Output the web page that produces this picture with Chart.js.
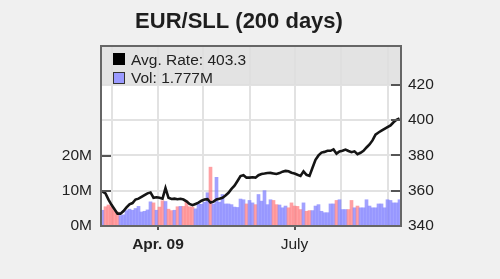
<!DOCTYPE html>
<html>
<head>
<meta charset="utf-8">
<script src="https://cdn.jsdelivr.net/npm/chart.js@4/dist/chart.umd.min.js"></script>
<style>
  html, body { margin: 0; padding: 0; background: #f0f0f0; }
  #wrap { width: 500px; height: 279px; }
</style>
</head>
<body>
<div id="wrap"><canvas id="c" width="500" height="279"></canvas></div>
<script>
// ---- data (one point every 2 days, starting 2009-02-22) ----
const startDate = '2009-02-22';
const stepDays = 2;
const rate = [
  359.5, 358.5, 355, 352, 349.5, 347, 347, 348.5, 350.5, 352.3,
  353, 355, 355.5, 356.5, 357.5, 358.5, 359, 356, 356.3, 356,
  355.5, 361.5, 356, 355.3, 355.5, 355.2, 355.4, 355, 354, 352.5,
  351.8, 352.5, 353.2, 354.3, 355, 355.2, 353.3, 353.8, 355, 355.5,
  356, 357.3, 358.8, 361, 362.8, 365.5, 368.3, 368.8, 367.4, 367.4,
  367.6, 367.4, 368.8, 369.5, 369.7, 370, 370.1, 369.8, 369.5, 370,
  370.8, 371.2, 371, 370.2, 369.7, 369, 368.4, 371, 369, 368.4,
  373, 377.5, 380, 381.6, 382, 382.6, 382.6, 383.4, 381, 382.3,
  382.6, 383.3, 382.5, 381.8, 382.3, 380.7, 381.5, 382.6, 384.5, 386.2,
  388.5, 391.8, 393, 394, 395, 396, 397, 398.8, 400.2, 401
];
const volM = [
  4.5, 5.5, 6.0, 5.5, 4.4, 4.0, 3.0, 3.2, 4.4, 4.8,
  4.5, 5.0, 5.6, 4.0, 4.2, 4.6, 6.9, 6.6, 4.5, 5.4,
  7.2, 7.0, 4.8, 4.4, 4.5, 5.5, 5.6, 5.6, 7.2, 5.5,
  5.4, 4.9, 6.3, 6.2, 6.8, 9.5, 16.8, 6.3, 13.9, 6.8,
  9.0, 6.3, 6.3, 6.1, 5.4, 5.3, 7.7, 7.5, 6.3, 7.3,
  6.6, 6.1, 9.0, 7.1, 10.1, 6.1, 7.5, 7.3, 6.1, 6.0,
  5.2, 5.7, 5.2, 6.6, 5.7, 5.6, 4.7, 6.6, 4.2, 4.4,
  4.4, 5.7, 6.1, 4.2, 3.8, 3.8, 6.3, 6.3, 7.3, 7.5,
  4.7, 4.7, 4.7, 7.3, 5.2, 5.7, 5.2, 5.2, 7.5, 5.7,
  5.2, 5.2, 6.3, 6.3, 5.2, 7.5, 7.3, 6.6, 6.6, 7.5
];
const monthStarts = ['2009-03-01','2009-04-01','2009-05-01','2009-06-01','2009-07-01','2009-08-01','2009-09-01'];
const monthLabels = { '2009-04-01': 'Apr. 09', '2009-07-01': 'July' };
const rateTicks = [340, 360, 380, 400, 420];
const volTicksM = [0, 10, 20];
const titleText = 'EUR/SLL (200 days)';
const legendRate = 'Avg. Rate: 403.3';
const legendVol = 'Vol: 1.777M';

// ---- helpers ----
const DAY = 86400000;
const t0 = Date.parse(startDate + 'T00:00:00Z');
const dayOf = s => (Date.parse(s + 'T00:00:00Z') - t0) / DAY;
const xs = rate.map((_, i) => i * stepDays + stepDays / 2);
const tickDays = monthStarts.map(dayOf);
const labelByDay = {};
Object.keys(monthLabels).forEach(k => { labelByDay[dayOf(k)] = monthLabels[k]; });

const blue = 'rgba(125,125,255,0.72)';
const red = 'rgba(255,115,120,0.68)';
const barColors = rate.map((v, i) => (i > 0 && v < rate[i - 1]) ? red : blue);

Chart.defaults.font.family = "'Liberation Sans', Arial, sans-serif";
Chart.defaults.color = '#222';

const bgPlugin = {
  id: 'bg',
  beforeDraw(chart) {
    const { ctx, chartArea: a } = chart;
    ctx.save();
    ctx.fillStyle = '#ffffff';
    ctx.fillRect(a.left, a.top, a.right - a.left, a.bottom - a.top);
    ctx.restore();
  }
};

const overlayPlugin = {
  id: 'overlay',
  afterDatasetsDraw(chart) {
    const { ctx, chartArea: a, scales } = chart;
    ctx.save();
    // legend band
    ctx.fillStyle = 'rgba(222,222,222,0.85)';
    ctx.fillRect(a.left, a.top, a.right - a.left, 39);
    ctx.fillStyle = '#000';
    ctx.fillRect(a.left + 12, a.top + 7, 12, 12);
    ctx.fillStyle = '#9a9aff';
    ctx.fillRect(a.left + 12, a.top + 26, 12, 12);
    ctx.strokeStyle = '#333';
    ctx.lineWidth = 1;
    ctx.strokeRect(a.left + 12.5, a.top + 26.5, 11, 11);
    ctx.fillStyle = '#222';
    ctx.font = "15.5px 'Liberation Sans', Arial, sans-serif";
    ctx.textBaseline = 'alphabetic';
    ctx.fillText(legendRate, a.left + 30, a.top + 19);
    ctx.fillText(legendVol, a.left + 30, a.top + 37);
    // inner tick marks
    ctx.strokeStyle = '#555';
    ctx.lineWidth = 2;
    const yr = scales.yRate, yv = scales.yVol;
    rateTicks.forEach(v => {
      const y = Math.round(yr.getPixelForValue(v));
      ctx.beginPath(); ctx.moveTo(a.right - 10, y); ctx.lineTo(a.right, y); ctx.stroke();
    });
    volTicksM.forEach(v => {
      const y = Math.round(yv.getPixelForValue(v));
      ctx.beginPath(); ctx.moveTo(a.left, y); ctx.lineTo(a.left + 10, y); ctx.stroke();
    });
    // frame
    ctx.strokeStyle = '#666';
    ctx.lineWidth = 2;
    ctx.strokeRect(a.left, a.top, a.right - a.left, a.bottom - a.top);
    ctx.restore();
  }
};

new Chart(document.getElementById('c'), {
  data: {
    datasets: [
      {
        type: 'line',
        label: legendRate,
        data: rate.map((v, i) => ({ x: xs[i], y: v })),
        yAxisID: 'yRate',
        borderColor: '#151515',
        borderWidth: 2.6,
        pointRadius: 0,
        tension: 0,
        order: 0
      },
      {
        type: 'bar',
        label: legendVol,
        data: volM.map((v, i) => ({ x: xs[i], y: v })),
        yAxisID: 'yVol',
        backgroundColor: barColors,
        borderWidth: 0,
        barPercentage: 1,
        categoryPercentage: 1,
        order: 1
      }
    ]
  },
  options: {
    responsive: false,
    animation: false,
    devicePixelRatio: 1,
    layout: { padding: { left: 0, right: 22, top: 0, bottom: 0 } },
    plugins: {
      legend: { display: false },
      tooltip: { enabled: false },
      title: {
        display: true,
        text: titleText,
        color: '#1e1e1e',
        font: { size: 22, weight: 'bold', lineHeight: 1.2 },
        padding: { top: 9, bottom: 10.6 }
      }
    },
    scales: {
      x: {
        type: 'linear',
        min: 0,
        max: 200,
        offset: false,
        afterBuildTicks(scale) { scale.ticks = tickDays.map(v => ({ value: v })); },
        afterFit(scale) { scale.height = 53; },
        ticks: {
          autoSkip: false,
          maxRotation: 0,
          padding: 5,
          color: '#222',
          font: c => ({ size: 15.5, weight: (c.tick && c.tick.label === 'Apr. 09') ? 'bold' : 'normal' }),
          callback: v => labelByDay[v] || ''
        },
        grid: {
          offset: false,
          color: '#e2e2e2',
          lineWidth: 2,
          tickLength: 4,
          tickWidth: 2,
          tickColor: c => (c.tick && labelByDay[c.tick.value]) ? '#555' : 'rgba(0,0,0,0)'
        },
        border: { display: false }
      },
      yVol: {
        type: 'linear',
        position: 'left',
        min: 0,
        max: 51.4,
        afterBuildTicks(scale) { scale.ticks = volTicksM.map(v => ({ value: v })); },
        afterFit(scale) { scale.width = 101; },
        ticks: {
          padding: 9,
          color: '#222',
          font: { size: 15.5 },
          callback: v => v + 'M'
        },
        grid: { drawOnChartArea: false, drawTicks: false },
        border: { display: false }
      },
      yRate: {
        type: 'linear',
        position: 'right',
        min: 340,
        max: 442,
        afterBuildTicks(scale) { scale.ticks = rateTicks.map(v => ({ value: v })); },
        afterFit(scale) { scale.width = 77; },
        ticks: {
          padding: 7,
          color: '#222',
          font: { size: 15.5 },
          callback: v => String(v)
        },
        grid: { color: '#e2e2e2', lineWidth: 2, drawTicks: false },
        border: { display: false }
      }
    }
  },
  plugins: [bgPlugin, overlayPlugin]
});
</script>
</body>
</html>
